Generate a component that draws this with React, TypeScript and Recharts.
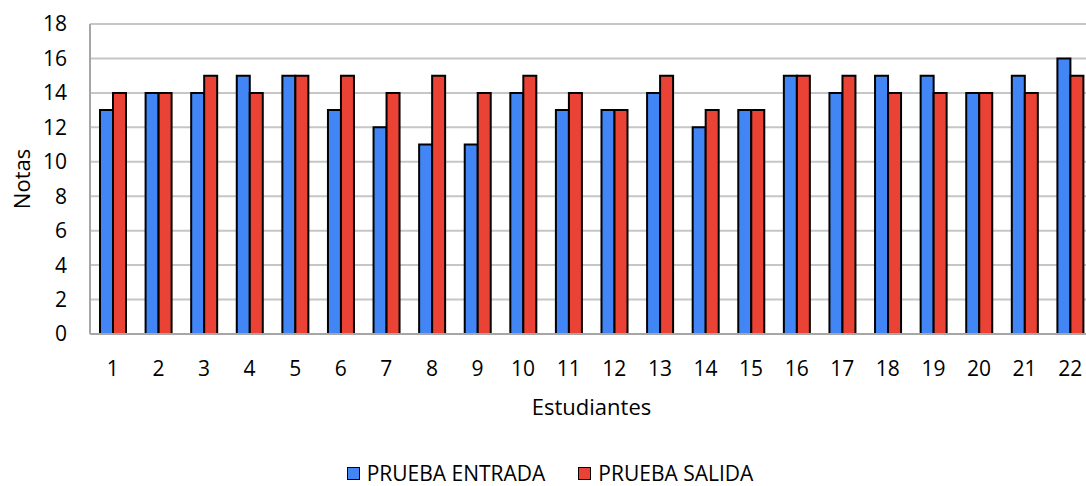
import React from 'react';
import { BarChart, Bar, XAxis, YAxis, CartesianGrid, Legend, Label } from 'recharts';

const categories = ['1','2','3','4','5','6','7','8','9','10','11','12','13','14','15','16','17','18','19','20','21','22'];
const entrada = [13,14,14,15,15,13,12,11,11,14,13,13,14,12,13,15,14,15,15,14,15,16];
const salida = [14,14,15,14,15,15,14,15,14,15,14,13,15,13,13,15,15,14,14,14,14,15];
const yTicks = [0,2,4,6,8,10,12,14,16,18];

const data = categories.map((c, i) => ({ name: c, entrada: entrada[i], salida: salida[i] }));

const FONT = '"Open Sans", "Noto Sans", sans-serif';

const LegendContent = (props: any) => {
  const { payload } = props;
  return (
    <div style={{ display: 'flex', justifyContent: 'center', alignItems: 'center', gap: 33, fontFamily: FONT, fontSize: 21, lineHeight: '24px', color: '#000', height: 24 }}>
      {(payload || []).map((p: any) => (
        <div key={p.value} style={{ display: 'flex', alignItems: 'center', lineHeight: '24px', height: 24 }}>
          <span style={{ display: 'inline-block', width: 11, height: 11, background: p.color, border: '1.5px solid #000', marginRight: 7 }} />
          <span style={{ lineHeight: '24px', whiteSpace: 'nowrap' }}>{p.value}</span>
        </div>
      ))}
    </div>
  );
};

export default function App() {
  return (
    <div style={{ position: 'absolute', left: 0, top: 0, width: 1086, height: 486, overflow: 'hidden', background: '#fff' }}>
      <BarChart width={1100} height={486} data={data} margin={{ top: 24, right: 7, left: 0, bottom: 38 }} barGap={0}>
        <CartesianGrid vertical={false} stroke="#c6c6c6" strokeWidth={2} />
        <XAxis
          dataKey="name"
          interval={0}
          tickLine={false}
          tickSize={0}
          tickMargin={27}
          height={90}
          axisLine={{ stroke: '#a6a6a6', strokeWidth: 2 }}
          tick={{ fill: '#000', fontSize: 21, fontFamily: FONT }}
        >
          <Label
            content={(p: any) => {
              const vb = p.viewBox || {};
              return (
                <text x={vb.x + vb.width / 2} y={vb.y + 81} textAnchor="middle" fill="#000" fontSize={22} fontFamily={FONT}>
                  Estudiantes
                </text>
              );
            }}
          />
        </XAxis>
        <YAxis
          width={90}
          domain={[0, 18]}
          ticks={yTicks}
          interval={0}
          tickLine={false}
          tickSize={0}
          tickMargin={23}
          axisLine={{ stroke: '#a6a6a6', strokeWidth: 2 }}
          tick={{ fill: '#000', fontSize: 21, fontFamily: FONT }}
        >
          <Label
            content={(p: any) => {
              const vb = p.viewBox || {};
              const cy = vb.y + vb.height / 2;
              return (
                <text x={30} y={cy} transform={`rotate(-90 30 ${cy})`} textAnchor="middle" fill="#000" fontSize={22} fontFamily={FONT}>
                  Notas
                </text>
              );
            }}
          />
        </YAxis>
        <Legend
          verticalAlign="bottom"
          content={<LegendContent />}
          wrapperStyle={{ left: 0, width: 1100, top: 461, bottom: 'auto', height: 24 }}
        />
        <Bar dataKey="entrada" name="PRUEBA ENTRADA" fill="#4286F5" stroke="#000" strokeWidth={2} barSize={13} isAnimationActive={false} />
        <Bar dataKey="salida" name="PRUEBA SALIDA" fill="#EA4335" stroke="#000" strokeWidth={2} barSize={13} isAnimationActive={false} />
      </BarChart>
    </div>
  );
}
